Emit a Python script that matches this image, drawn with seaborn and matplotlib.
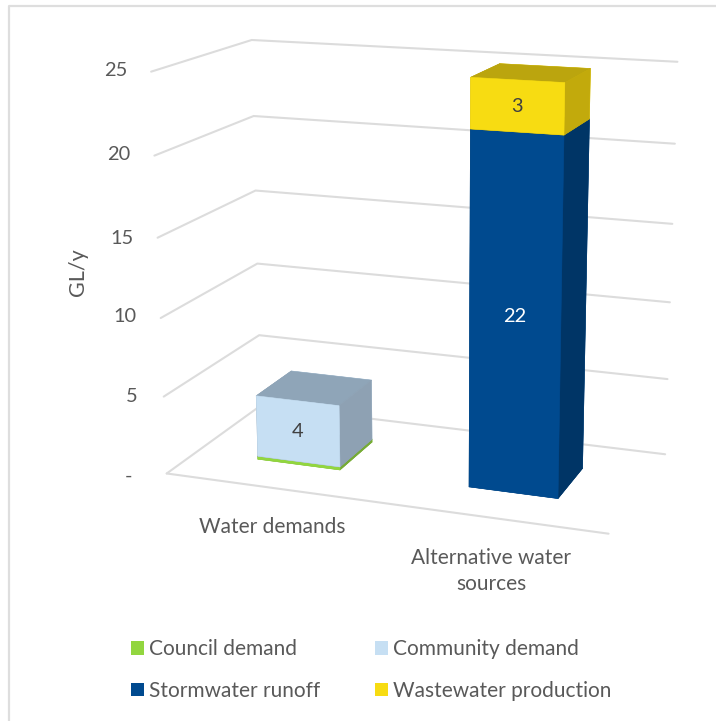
import numpy as np
import pandas as pd
import seaborn as sns
import matplotlib
matplotlib.use("Agg")
import matplotlib.pyplot as plt
from matplotlib.lines import Line2D
from matplotlib.patches import Patch
from mpl_toolkits.mplot3d import proj3d

sns.set_theme(style="white")
plt.rcParams["font.family"] = ["Lato", "DejaVu Sans"]

W, H = 716, 721

# Annual volumes in GL/y
categories = ["Water demands", "Alternative water\nsources"]
series_names = ["Council demand", "Community demand", "Stormwater runoff", "Wastewater production"]
council = [0.2, 0.0]
community = [4.0, 0.0]
stormwater = [0.0, 22.0]
wastewater = [0.0, 3.0]
value_ticks = [0, 5, 10, 15, 20, 25]
value_tick_labels = ["-", "5", "10", "15", "20", "25"]

front_colors = ["#92d63f", "#c6dff3", "#004a8f", "#f7dc12"]
top_colors = ["#7fb53a", "#8fa5b8", "#003e78", "#bba50e"]
side_colors = ["#76ab36", "#8ea1b3", "#003566", "#c2aa0c"]
palette = sns.color_palette(front_colors)
TEXT = "#595959"
GRID = "#dcdcdc"
FS = 15.0
TICK_FS = 14.4

df = pd.DataFrame(
    {"Council demand": council, "Community demand": community,
     "Stormwater runoff": stormwater, "Wastewater production": wastewater},
    index=categories,
)

fig = plt.figure(figsize=(W / 100, H / 100), dpi=100, facecolor="white")

# Frame runs along the top and left only
fig.add_artist(Line2D([8.5 / W, 8.5 / W, 1], [0, 1 - 5.5 / H, 1 - 5.5 / H], color="#dedede", lw=1.6))

ax = fig.add_axes([0.20244, 0.24545, 0.74370, 0.73854], projection="3d", computed_zorder=False)
ax.set_xlim(0, 2)
ax.set_ylim(0, 1)
ax.set_zlim(0, 25)
ax.view_init(elev=14.8758, azim=-69.5775, roll=0.1849)
ax.set_proj_type("persp", focal_length=0.67452)
ax.set_box_aspect((1.1249, 0.5521, 1), zoom=1.2)
ax.set_axis_off()
ax.patch.set_alpha(0)

# Wall gridlines and floor outline
for tick in value_ticks:
    ax.plot([0, 0, 2], [0, 1, 1], [tick, tick, tick], color=GRID, lw=1.5, zorder=1, clip_on=False)
ax.plot([0, 2], [0, 0], [0, 0], color=GRID, lw=1.5, zorder=1, clip_on=False)

# Stacked bars, one block per non-empty series
BAR_WIDTH, DEPTH_GAP = 0.3983, 0.3053
projection = ax.get_proj()
z_order = 5
for i, cat in enumerate(df.index):
    base = 0.0
    x0 = i + 0.5 - BAR_WIDTH / 2
    for s, name in enumerate(df.columns):
        val = df.loc[cat, name]
        if val <= 0:
            continue
        # face order: bottom, top, front, back, left, right
        cols = [top_colors[s], top_colors[s], front_colors[s], front_colors[s], side_colors[s], side_colors[s]]
        ax.bar3d([x0], [DEPTH_GAP], [base], BAR_WIDTH, 1 - 2 * DEPTH_GAP, val, color=cols, edgecolor=cols,
                 linewidth=0.4, shade=False, zorder=z_order, clip_on=False)
        z_order += 1
        if name != "Council demand":
            # Value label centred on the block's front face
            lx, ly, _ = proj3d.proj_transform(i + 0.5, DEPTH_GAP, base + val / 2, projection)
            ax.text2D(lx, ly, f"{val:.0f}", transform=ax.transData, ha="center", va="center", fontsize=TICK_FS,
                      color="white" if name == "Stormwater runoff" else "#404040", zorder=50)
        base += val

# Value-axis labels sit just left of the front corner
tick_right_px = [132, 137, 136, 133, 130, 127]
tick_y_px = [476, 397, 317, 238, 155, 70]
for lab, xp, yp in zip(value_tick_labels, tick_right_px, tick_y_px):
    fig.text(xp / W, 1 - yp / H, lab, ha="right", va="center", fontsize=TICK_FS, color=TEXT)

fig.text(78 / W, 1 - 272 / H, "GL/y", rotation=90, ha="center", va="center", fontsize=FS + 0.5, color=TEXT)
fig.text(272 / W, 1 - 527 / H, categories[0], ha="center", va="center", fontsize=FS, color=TEXT)
fig.text(491 / W, 1 - 571 / H, categories[1], ha="center", va="center", fontsize=FS, color=TEXT,
         linespacing=1.35, multialignment="center")

# ncol fills by column, so the first row reads Council, Community
handles = [Patch(facecolor=palette[i], edgecolor="none", label=series_names[i]) for i in (0, 2, 1, 3)]
fig.legend(handles=handles, ncol=2, loc="lower left", bbox_to_anchor=(131 / W, 1 - 701 / H),
           frameon=False, fontsize=FS, labelcolor=TEXT, borderpad=0, borderaxespad=0,
           handlelength=0.62, handleheight=0.62, handletextpad=0.24, columnspacing=2.65, labelspacing=1.05)

fig.savefig("out.png", dpi=100, facecolor="white")
